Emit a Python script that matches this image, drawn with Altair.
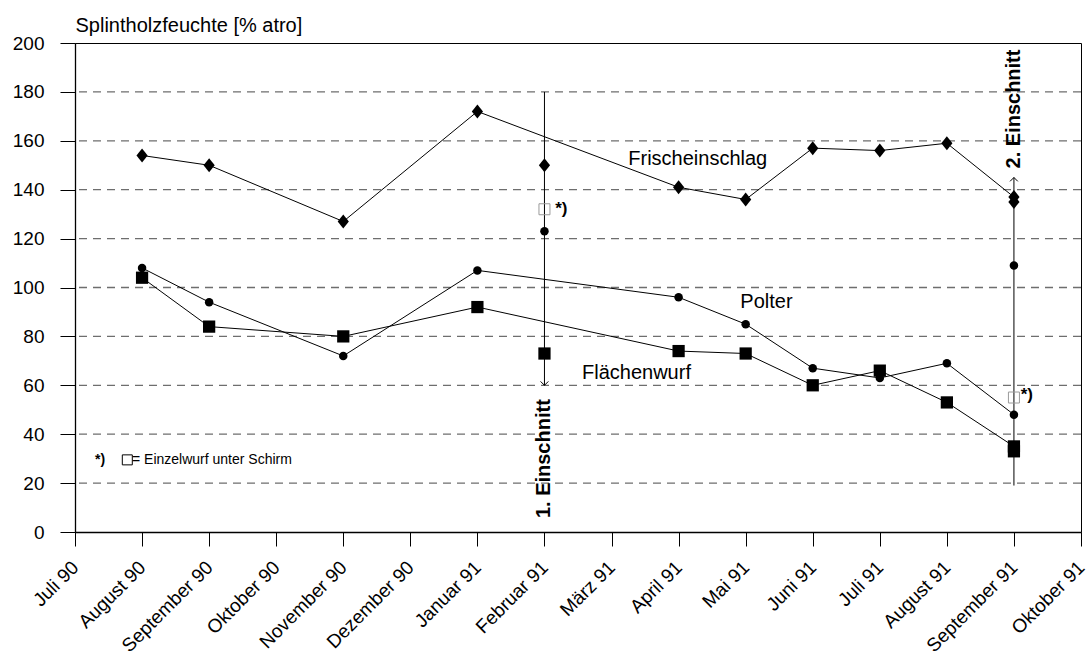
import altair as alt
import pandas as pd

FONT = "Liberation Sans"

months = ["Juli 90", "August 90", "September 90", "Oktober 90", "November 90",
          "Dezember 90", "Januar 91", "Februar 91", "März 91", "April 91",
          "Mai 91", "Juni 91", "Juli 91", "August 91", "September 91", "Oktober 91"]

# month index 0 = Juli 90
series_months = [1, 2, 4, 6, 9, 10, 11, 12, 13, 14]
frischeinschlag = [154, 150, 127, 172, 141, 136, 157, 156, 159, 137]
polter = [108, 94, 72, 107, 96, 85, 67, 63, 69, 48]
flaechenwurf = [104, 84, 80, 92, 74, 73, 60, 66, 53, 35]

# single measurements at the cuts (not connected)
cut_months = [7, 14]
frisch_cut = [150, 135]
polter_cut = [123, 109]
flaechen_cut = [73, 33]
schirm = [132, 55]  # Einzelwurf unter Schirm

cut_start = [180, 19]
cut_end = [60, 145]
cut_labels = ["1. Einschnitt", "2. Einschnitt"]
cut_label_y = [30, 173]

grid_values = [20, 40, 60, 80, 100, 120, 140, 160, 180]

series_names = ["Frischeinschlag", "Polter", "Flächenwurf"]
series_label_x = [8.25, 9.92, 7.56]
series_label_y = [152.5, 94, 65]

star_x = [7.16, 14.1]
star_y = [132, 56]

legend_star = {"x": 0.3, "y": 29.5}
legend_square = {"x": 0.78, "y": 29.5}
legend_text = {"x": 0.85, "y": 29.5, "t": "= Einzelwurf unter Schirm"}

label_expr = "[" + ",".join("'" + m + "'" for m in months) + "][datum.value]"

x_enc = alt.X("m:Q", scale=alt.Scale(domain=[0, 15], nice=False, zero=False),
              axis=alt.Axis(values=list(range(16)), labelExpr=label_expr, title=None,
                            labelAngle=-45, labelAlign="right", labelBaseline="middle",
                            labelPadding=18, tickSize=14, grid=False,
                            labelOverlap=False, labelFlush=False, labelBound=False))
y_enc = alt.Y("v:Q", scale=alt.Scale(domain=[0, 200], nice=False),
              axis=alt.Axis(values=list(range(0, 201, 20)), grid=False, tickSize=15,
                            labelPadding=16, labelOverlap=False, labelFlush=False,
                            title="Splintholzfeuchte [% atro]", titleAngle=0,
                            titleAlign="left", titleX=0, titleY=-12,
                            titleBaseline="alphabetic", titleFont=FONT,
                            titleFontSize=20, titleFontWeight="normal"))

grid_df = pd.DataFrame({"v": grid_values})
grid = alt.Chart(grid_df).mark_rule(color="#6e6e6e", strokeWidth=1.3, strokeDash=[8, 6]).encode(y=y_enc)

cut_df = pd.DataFrame({"m": cut_months, "v": cut_start, "v2": cut_end})
cuts = alt.Chart(cut_df).mark_rule(color="black", strokeWidth=1).encode(x=x_enc, y=y_enc, y2="v2:Q")

arrow_down = alt.Chart(pd.DataFrame({"m": [cut_months[0]], "v": [cut_end[0]]})).mark_point(
    shape="M-1,-1L0,0L1,-1", filled=False, color="black", size=60, strokeWidth=1, opacity=1
).encode(x=x_enc, y=y_enc)
arrow_up = alt.Chart(pd.DataFrame({"m": [cut_months[1]], "v": [cut_end[1]]})).mark_point(
    shape="M-1,1L0,0L1,1", filled=False, color="black", size=60, strokeWidth=1, opacity=1
).encode(x=x_enc, y=y_enc)

line_rows = []
for name, vals in zip(series_names, [frischeinschlag, polter, flaechenwurf]):
    for m, v in zip(series_months, vals):
        line_rows.append({"m": m, "v": v, "s": name})
line_df = pd.DataFrame(line_rows)
lines = alt.Chart(line_df).mark_line(color="black", strokeWidth=1).encode(x=x_enc, y=y_enc, detail="s:N")

DIAMOND = "M-0.8,0L0,-1L0.8,0L0,1Z"

def pts(months_list, vals, shape, size):
    df = pd.DataFrame({"m": months_list, "v": vals})
    return alt.Chart(df).mark_point(shape=shape, filled=True, color="black", size=size, opacity=1).encode(x=x_enc, y=y_enc)

layers = [grid, cuts, arrow_down, arrow_up, lines,
          pts(series_months, frischeinschlag, DIAMOND, 196),
          pts(cut_months, frisch_cut, DIAMOND, 196),
          pts(series_months, polter, "circle", 72),
          pts(cut_months, polter_cut, "circle", 72),
          pts(series_months, flaechenwurf, "square", 150),
          pts(cut_months, flaechen_cut, "square", 150)]

schirm_df = pd.DataFrame({"m": cut_months, "v": schirm})
layers.append(alt.Chart(schirm_df).mark_point(shape="square", filled=False, color="#9a9a9a",
                                              size=121, strokeWidth=1, opacity=1).encode(x=x_enc, y=y_enc))

star_df = pd.DataFrame({"m": star_x, "v": star_y, "t": ["*)", "*)"]})
layers.append(alt.Chart(star_df).mark_text(align="left", baseline="middle", font=FONT, fontSize=17,
                                           fontWeight="bold", color="black").encode(x=x_enc, y=y_enc, text="t:N"))

lab_df = pd.DataFrame({"m": series_label_x, "v": series_label_y, "t": series_names})
layers.append(alt.Chart(lab_df).mark_text(align="left", baseline="middle", font=FONT, fontSize=20,
                                          color="black").encode(x=x_enc, y=y_enc, text="t:N"))

cutlab_df = pd.DataFrame({"m": cut_months, "v": cut_label_y, "t": cut_labels})
layers.append(alt.Chart(cutlab_df).mark_text(align="center", baseline="middle", font=FONT, fontSize=20,
                                             fontWeight="bold", angle=270, color="black").encode(x=x_enc, y=y_enc, text="t:N"))

leg_star_df = pd.DataFrame({"m": [legend_star["x"]], "v": [legend_star["y"]], "t": ["*)"]})
layers.append(alt.Chart(leg_star_df).mark_text(align="left", baseline="middle", font=FONT, fontSize=14,
                                               fontWeight="bold", color="black").encode(x=x_enc, y=y_enc, text="t:N"))
leg_sq_df = pd.DataFrame({"m": [legend_square["x"]], "v": [legend_square["y"]]})
layers.append(alt.Chart(leg_sq_df).mark_point(shape="square", filled=False, color="black", size=100,
                                              strokeWidth=1, opacity=1).encode(x=x_enc, y=y_enc))
leg_txt_df = pd.DataFrame({"m": [legend_text["x"]], "v": [legend_text["y"]], "t": [legend_text["t"]]})
layers.append(alt.Chart(leg_txt_df).mark_text(align="left", baseline="middle", font=FONT, fontSize=14,
                                              color="black").encode(x=x_enc, y=y_enc, text="t:N"))

chart = alt.layer(*layers).properties(
    width=1006, height=489,
    autosize=alt.AutoSizeParams(type="none"),
    padding={"left": 75, "top": 43, "right": 7, "bottom": 125},
    background="white",
).configure_view(stroke="black", strokeWidth=1).configure_axis(
    labelFont=FONT, labelFontSize=19, labelColor="black",
    domainColor="black", domainWidth=1.3, tickColor="black", tickWidth=1,
    titleColor="black",
)

chart.save("out.html", embed_options={"renderer": "svg", "actions": False})
